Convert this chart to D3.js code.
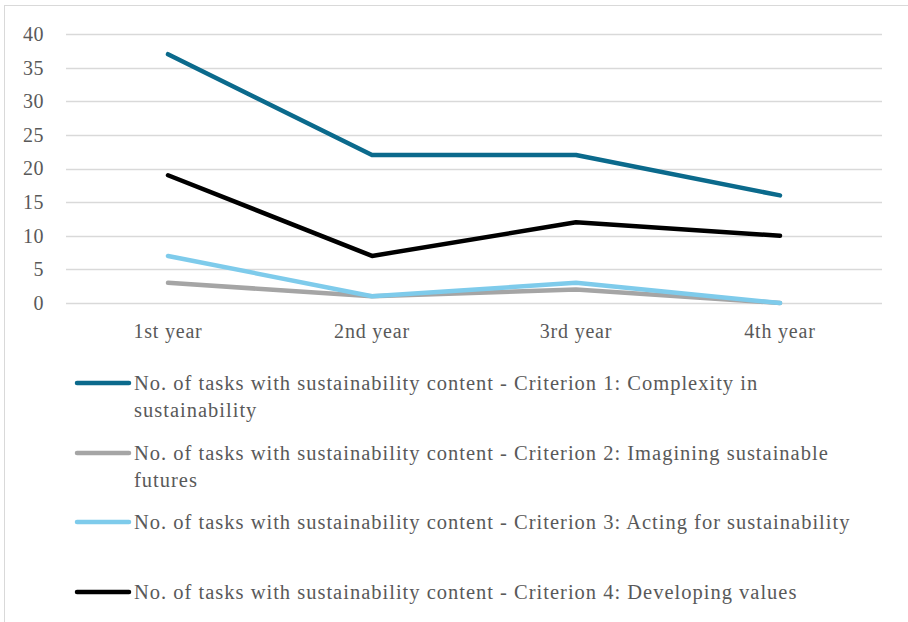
<!DOCTYPE html>
<html><head><meta charset="utf-8">
<script src="https://cdn.jsdelivr.net/npm/d3@7"></script>
<style>html,body{margin:0;padding:0;background:#fff;overflow:hidden}</style>
</head><body>
<svg id="chart" width="908" height="622"></svg>
<script>
const categories = ["1st year", "2nd year", "3rd year", "4th year"];
const seriesNames = [
  "No. of tasks with sustainability content - Criterion 1: Complexity in sustainability",
  "No. of tasks with sustainability content - Criterion 2: Imagining sustainable futures",
  "No. of tasks with sustainability content - Criterion 3: Acting for sustainability",
  "No. of tasks with sustainability content - Criterion 4: Developing values"
];
const criterion1 = [37, 22, 22, 16];
const criterion2 = [3, 1, 2, 0];
const criterion3 = [7, 1, 3, 0];
const criterion4 = [19, 7, 12, 10];
const yTicks = [0, 5, 10, 15, 20, 25, 30, 35, 40];
const colors = ["#0b6a8c", "#a5a5a5", "#7ecbeb", "#000000"];

const series = [criterion1, criterion2, criterion3, criterion4];
const font = "'Liberation Serif', 'Times New Roman', serif";
const textColor = "#595959";

const svg = d3.select("#chart");
svg.append("rect").attr("x", 4.5).attr("y", 5.5).attr("width", 1000).attr("height", 700)
  .attr("fill", "#fff").attr("stroke", "#d9d9d9").attr("stroke-width", 1);

const x = d3.scaleBand().domain(categories).range([66, 882]);
const y = d3.scaleLinear().domain([0, 40]).range([303, 34]);

// gridlines
svg.append("g").selectAll("line").data(yTicks).join("line")
  .attr("x1", 66).attr("x2", 882)
  .attr("y1", d => Math.round(y(d)) + 0.5).attr("y2", d => Math.round(y(d)) + 0.5)
  .attr("stroke", "#d9d9d9").attr("stroke-width", 1.5);

// y axis
const yAxis = svg.append("g").attr("transform", "translate(52,0)")
  .call(d3.axisLeft(y).tickValues(yTicks).tickSize(0).tickPadding(8));
yAxis.select(".domain").remove();
yAxis.selectAll("text").attr("font-family", font).attr("font-size", 20).attr("fill", textColor)
  .attr("letter-spacing", 0.5);

// x axis
const xAxis = svg.append("g").attr("transform", "translate(0,321)")
  .call(d3.axisBottom(x).tickSize(0).tickPadding(3));
xAxis.select(".domain").remove();
xAxis.selectAll("text").attr("font-family", font).attr("font-size", 20).attr("fill", textColor)
  .attr("letter-spacing", 0.8);

// lines
const line = d3.line().x((d, i) => x(categories[i]) + x.bandwidth() / 2).y(d => y(d));
series.forEach((s, i) => {
  svg.append("path").datum(s).attr("d", line)
    .attr("fill", "none").attr("stroke", colors[i]).attr("stroke-width", 4.5)
    .attr("stroke-linejoin", "round").attr("stroke-linecap", "round");
});

// legend
const legendY = [383, 453, 522, 592];
const maxW = 730;
seriesNames.forEach((name, i) => {
  const g = svg.append("g");
  g.append("line").attr("x1", 77).attr("x2", 129).attr("y1", legendY[i]).attr("y2", legendY[i])
    .attr("stroke", colors[i]).attr("stroke-width", 4.5).attr("stroke-linecap", "round");
  const t = g.append("text").attr("font-family", font).attr("font-size", 20.5).attr("fill", textColor)
    .attr("letter-spacing", 1).attr("x", 134).attr("y", legendY[i] + 7);
  const words = name.split(" ");
  let lineWords = [];
  let ts = t.append("tspan").attr("x", 134).attr("dy", 0);
  words.forEach(w => {
    lineWords.push(w);
    ts.text(lineWords.join(" "));
    if (ts.node().getComputedTextLength() > maxW && lineWords.length > 1) {
      lineWords.pop();
      ts.text(lineWords.join(" "));
      lineWords = [w];
      ts = t.append("tspan").attr("x", 134).attr("dy", 27).text(w);
    }
  });
});
</script>
</body></html>
